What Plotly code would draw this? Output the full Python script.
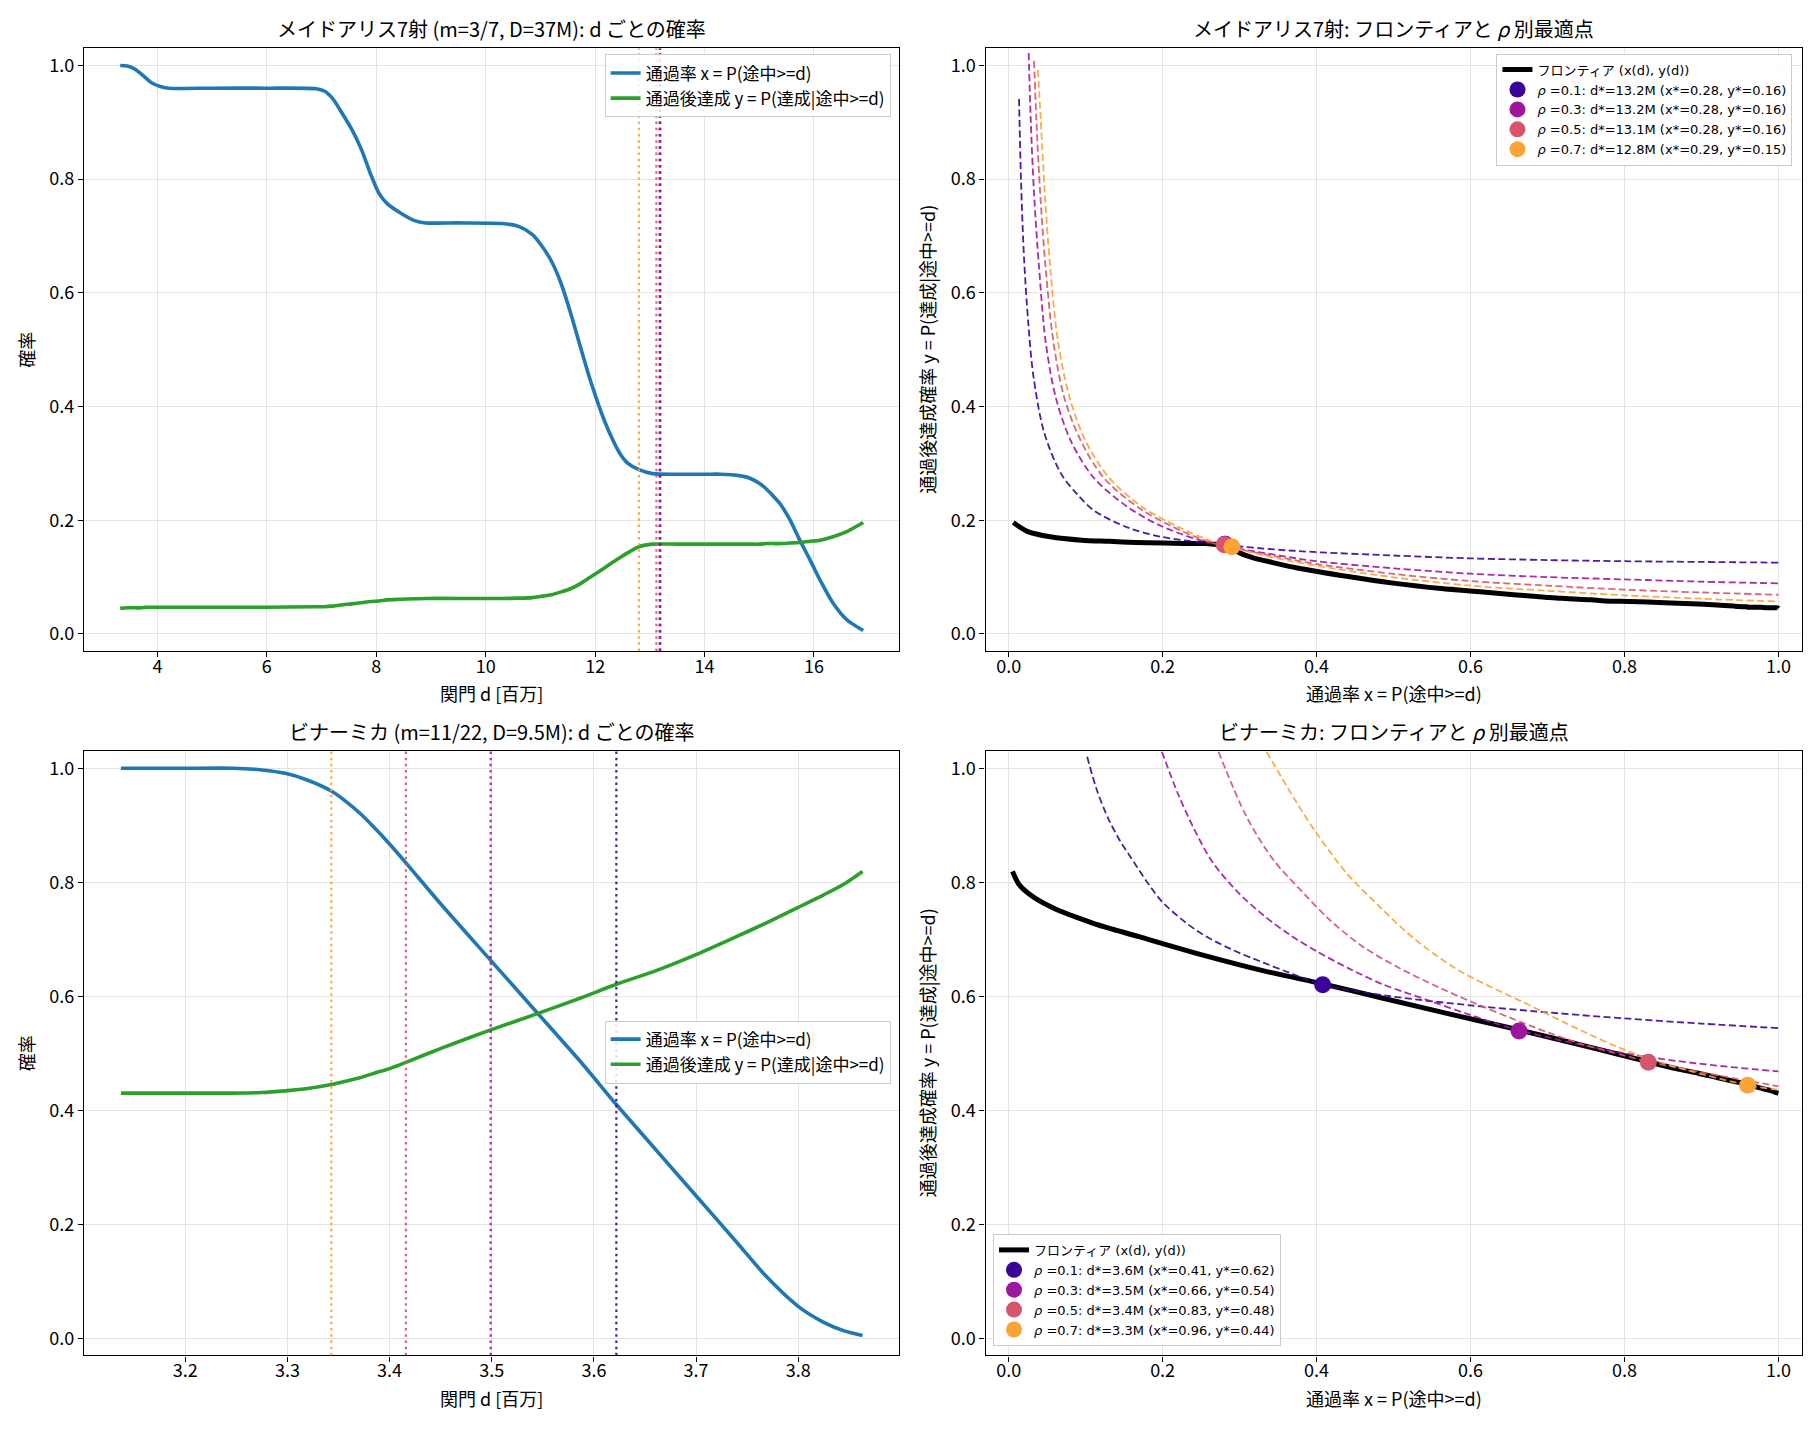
import plotly.graph_objects as go
from plotly.subplots import make_subplots

FONT = "Noto Sans CJK JP"
SMALL_FONT = "DejaVu Sans, Noto Sans CJK JP"

RHO = [0.1, 0.3, 0.5, 0.7]
RHO_COLORS = ["#3a049a", "#9c179e", "#d6556d", "#fca338"]

# --- メイドアリス7射 (top row) ---
ma_d = [3.32, 3.45, 3.6, 3.7, 3.8, 3.9, 4.05, 4.2, 5.0, 6.0, 6.9, 7.05, 7.2, 7.35, 7.55, 7.73,
        7.9, 8.05, 8.2, 8.45, 8.7, 8.9, 9.5, 10.3, 10.6, 10.85, 11.0, 11.2, 11.38, 11.56, 11.74,
        11.93, 12.17, 12.32, 12.45, 12.6, 12.8, 13.05, 13.5, 14.0, 14.3, 14.6, 14.83, 15.0,
        15.13, 15.25, 15.38, 15.56, 15.74, 15.93, 16.11, 16.35, 16.6, 16.9]
ma_pass = [1.000, 0.999, 0.993, 0.985, 0.977, 0.969, 0.963, 0.960, 0.960, 0.960, 0.959, 0.955,
           0.942, 0.920, 0.888, 0.852, 0.808, 0.775, 0.757, 0.740, 0.727, 0.723, 0.723, 0.722,
           0.717, 0.703, 0.686, 0.656, 0.616, 0.562, 0.502, 0.441, 0.375, 0.342, 0.318, 0.300,
           0.289, 0.282, 0.281, 0.281, 0.281, 0.279, 0.274, 0.265, 0.255, 0.243, 0.229, 0.201,
           0.165, 0.130, 0.095, 0.054, 0.025, 0.006]
ma_post = [0.045, 0.046, 0.046, 0.046, 0.047, 0.047, 0.047, 0.047, 0.047, 0.047, 0.048, 0.048,
           0.049, 0.051, 0.053, 0.055, 0.057, 0.058, 0.060, 0.061, 0.062, 0.0625, 0.0625, 0.0625,
           0.063, 0.064, 0.066, 0.069, 0.074, 0.080, 0.089, 0.101, 0.116, 0.126, 0.134, 0.143,
           0.1535, 0.158, 0.158, 0.158, 0.158, 0.158, 0.158, 0.158, 0.159, 0.159, 0.159, 0.160,
           0.161, 0.163, 0.165, 0.171, 0.180, 0.196]
ma_dstar = [13.19, 13.18, 13.12, 12.80]
ma_xstar = [0.281, 0.281, 0.280, 0.290]
ma_ystar = [0.158, 0.158, 0.157, 0.1535]
ma_iso_x = [
    [0.0135, 0.016, 0.020, 0.0256, 0.032, 0.046, 0.068, 0.0895, 0.111, 0.155, 0.198, 0.263,
     0.352, 0.4, 0.5, 0.6, 0.7, 0.8, 0.9, 1.0],
    [0.026, 0.0287, 0.033, 0.0395, 0.048, 0.061, 0.081, 0.111, 0.155, 0.198, 0.259, 0.352,
     0.4, 0.5, 0.6, 0.7, 0.8, 0.9, 1.0],
    [0.033, 0.036, 0.041, 0.048, 0.058, 0.072, 0.094, 0.124, 0.168, 0.211, 0.263, 0.352,
     0.4, 0.5, 0.6, 0.7, 0.8, 0.9, 1.0],
    [0.038, 0.0417, 0.047, 0.054, 0.064, 0.079, 0.100, 0.131, 0.174, 0.218, 0.268, 0.352,
     0.4, 0.5, 0.6, 0.7, 0.8, 0.9, 1.0],
]
ma_iso_y = [
    [0.941, 0.80, 0.66, 0.545, 0.455, 0.355, 0.282, 0.245, 0.217, 0.187, 0.171, 0.159,
     0.148, 0.144, 0.138, 0.133, 0.130, 0.128, 0.1267, 0.1255],
    [1.022, 0.904, 0.774, 0.644, 0.515, 0.417, 0.339, 0.274, 0.223, 0.190, 0.161, 0.138,
     0.128, 0.1155, 0.106, 0.100, 0.096, 0.092, 0.089],
    [1.008, 0.904, 0.774, 0.644, 0.515, 0.417, 0.339, 0.274, 0.223, 0.190, 0.161, 0.135,
     0.123, 0.1056, 0.093, 0.085, 0.078, 0.073, 0.069],
    [0.992, 0.904, 0.774, 0.644, 0.515, 0.417, 0.339, 0.274, 0.223, 0.190, 0.161, 0.132,
     0.120, 0.0997, 0.085, 0.076, 0.068, 0.062, 0.057],
]

# --- ビナーミカ (bottom row) ---
bm_d = [3.137, 3.2, 3.2465, 3.275, 3.298, 3.320, 3.343, 3.355, 3.371, 3.385, 3.400, 3.416,
        3.451, 3.499, 3.544, 3.587, 3.622, 3.661, 3.700, 3.740, 3.768, 3.800, 3.825, 3.845,
        3.863]
bm_pass = [1.0, 1.0, 1.0, 0.997, 0.991, 0.979, 0.960, 0.945, 0.921, 0.896, 0.867, 0.834,
           0.760, 0.663, 0.572, 0.485, 0.410, 0.330, 0.250, 0.168, 0.110, 0.056, 0.028, 0.013,
           0.005]
bm_post = [0.430, 0.430, 0.430, 0.431, 0.434, 0.438, 0.445, 0.450, 0.457, 0.465, 0.473, 0.484,
           0.509, 0.541, 0.569, 0.597, 0.621, 0.645, 0.673, 0.705, 0.728, 0.756, 0.778, 0.797,
           0.819]
bm_dstar = [3.622, 3.499, 3.416, 3.343]
bm_xstar = [0.408, 0.663, 0.831, 0.960]
bm_ystar = [0.620, 0.539, 0.484, 0.444]
bm_iso_x = [
    [0.102, 0.115, 0.13, 0.145, 0.158, 0.18, 0.2013, 0.2445, 0.288, 0.331, 0.365, 0.408, 0.496,
     0.6, 0.68, 0.8, 0.9, 1.0],
    [0.199, 0.22, 0.24, 0.264, 0.296, 0.331, 0.365, 0.4, 0.443, 0.486, 0.547, 0.6, 0.663, 0.8,
     0.895, 1.0],
    [0.2726, 0.309, 0.344, 0.383, 0.417, 0.460, 0.504, 0.547, 0.586, 0.68, 0.742, 0.8, 0.831,
     0.926, 1.0],
    [0.335, 0.374, 0.4, 0.439, 0.482, 0.525, 0.584, 0.68, 0.742, 0.8, 0.864, 0.96, 1.0],
]
bm_iso_y = [
    [1.02, 0.96, 0.91, 0.872, 0.845, 0.800, 0.763, 0.715, 0.683, 0.659, 0.641, 0.620, 0.600,
     0.584, 0.574, 0.561, 0.552, 0.544],
    [1.029, 0.955, 0.896, 0.837, 0.785, 0.742, 0.708, 0.679, 0.648, 0.621, 0.592, 0.567,
     0.540, 0.500, 0.482, 0.468],
    [1.029, 0.915, 0.839, 0.781, 0.734, 0.687, 0.652, 0.623, 0.599, 0.547, 0.517, 0.496, 0.485,
     0.460, 0.442],
    [1.029, 0.940, 0.886, 0.816, 0.757, 0.703, 0.646, 0.582, 0.541, 0.506, 0.477, 0.444, 0.436],
]

LBL_X = "通過率 x = P(途中>=d)"
LBL_Y = "通過後達成 y = P(達成|途中>=d)"

# the page body adds an 8px margin, so the figure is 8px smaller than the window
W, H = 1812, 1422

# axes boxes in paper coords
XD_L = [0.0420, 0.4919]
XD_R = [0.5395, 0.9898]
YD_T = [0.5478, 0.9716]
YD_B = [0.0525, 0.4774]


def frontier(xs, ys):
    fx, fy = [], []
    for a, b in zip(xs, ys):
        if fx and abs(a - fx[-1]) < 1e-9 and abs(b - fy[-1]) < 1e-9:
            continue
        fx.append(a)
        fy.append(b)
    return fx, fy


fig = make_subplots(rows=2, cols=2)


def d_panel(row, d, xs, ys, dstar, leg):
    fig.add_trace(go.Scatter(x=d, y=xs, mode="lines", name=LBL_X, legend=leg,
                             line=dict(color="#1f77b4", width=3.6, shape="spline", smoothing=0.7)),
                  row=row, col=1)
    fig.add_trace(go.Scatter(x=d, y=ys, mode="lines", name=LBL_Y, legend=leg,
                             line=dict(color="#2ca02c", width=3.6, shape="spline", smoothing=0.7)),
                  row=row, col=1)
    for ds, c in zip(dstar, RHO_COLORS):
        fig.add_vline(x=ds, line=dict(color=c, width=2.2, dash="2.5px,3.7px"), opacity=0.9,
                      row=row, col=1)


def front_panel(row, xs, ys, iso_x, iso_y, dstar, xstar, ystar, leg):
    fx, fy = frontier(xs, ys)
    fig.add_trace(go.Scatter(x=fx, y=fy, mode="lines", name="フロンティア (x(d), y(d))",
                             legend=leg,
                             line=dict(color="black", width=5, shape="spline", smoothing=0.8)),
                  row=row, col=2)
    for ix, iy, c in zip(iso_x, iso_y, RHO_COLORS):
        fig.add_trace(go.Scatter(x=ix, y=iy, mode="lines", showlegend=False, opacity=0.9,
                                 line=dict(color=c, width=1.8, dash="7px,3.5px",
                                           shape="spline", smoothing=0.9)),
                      row=row, col=2)
    for r, ds, xv, yv, c in zip(RHO, dstar, xstar, ystar, RHO_COLORS):
        name = f"<i>ρ</i> ={r}: d*={ds:.1f}M (x*={xv:.2f}, y*={yv:.2f})"
        fig.add_trace(go.Scatter(x=[xv], y=[yv], mode="markers", name=name, legend=leg,
                                 marker=dict(color=c, size=17)),
                      row=row, col=2)


d_panel(1, ma_d, ma_pass, ma_post, ma_dstar, "legend")
front_panel(1, ma_pass, ma_post, ma_iso_x, ma_iso_y, ma_dstar, ma_xstar, ma_ystar, "legend3")
d_panel(2, bm_d, bm_pass, bm_post, bm_dstar, "legend2")
front_panel(2, bm_pass, bm_post, bm_iso_x, bm_iso_y, bm_dstar, bm_xstar, bm_ystar, "legend4")

axis_style = dict(showline=True, linecolor="black", linewidth=1.4, mirror=True,
                  ticks="outside", ticklen=5, tickwidth=1.4, tickcolor="black",
                  showgrid=True, gridcolor="#e4e4e4", gridwidth=1.3, zeroline=False,
                  tickfont=dict(family=FONT, size=18, color="black"))
fig.update_xaxes(**axis_style, ticklabelstandoff=-6)
fig.update_yaxes(**axis_style, range=[-0.03, 1.03], dtick=0.2, tickformat=".1f")

fig.update_layout(
    xaxis=dict(domain=XD_L, range=[2.66, 17.56], dtick=2, tick0=0),
    yaxis=dict(domain=YD_T),
    xaxis2=dict(domain=XD_R, range=[-0.03, 1.03], dtick=0.2, tickformat=".1f"),
    yaxis2=dict(domain=YD_T),
    xaxis3=dict(domain=XD_L, range=[3.101, 3.899], dtick=0.1, tick0=3.0, tickformat=".1f"),
    yaxis3=dict(domain=YD_B),
    xaxis4=dict(domain=XD_R, range=[-0.03, 1.03], dtick=0.2, tickformat=".1f"),
    yaxis4=dict(domain=YD_B),
)

leg_common = dict(bgcolor="rgba(255,255,255,0.85)", bordercolor="#cccccc", borderwidth=1,
                  itemsizing="trace", tracegroupgap=0)
fig.update_layout(
    legend=dict(**leg_common, x=0.4871, y=0.9673, xanchor="right", yanchor="top",
                font=dict(family=FONT, size=17, color="black")),
    legend2=dict(**leg_common, x=0.4871, y=0.2658, xanchor="right", yanchor="middle",
                 font=dict(family=FONT, size=17, color="black")),
    legend3=dict(**leg_common, x=0.9848, y=0.9679, xanchor="right", yanchor="top",
                 font=dict(family=SMALL_FONT, size=13, color="black")),
    legend4=dict(**leg_common, x=0.5436, y=0.0591, xanchor="left", yanchor="bottom",
                 font=dict(family=SMALL_FONT, size=13, color="black")),
)

titles = [
    ("メイドアリス7射 (m=3/7, D=37M): d ごとの確率", XD_L, 0.9859),
    ("メイドアリス7射: フロンティアと <i>ρ</i> 別最適点", XD_R, 0.9859),
    ("ビナーミカ (m=11/22, D=9.5M): d ごとの確率", XD_L, 0.4909),
    ("ビナーミカ: フロンティアと <i>ρ</i> 別最適点", XD_R, 0.4909),
]
for text, xd, yy in titles:
    fig.add_annotation(text=text, xref="paper", yref="paper", x=(xd[0] + xd[1]) / 2, y=yy,
                       xanchor="center", yanchor="middle", showarrow=False,
                       font=dict(family=FONT, size=20, color="black"))

axis_labels = [
    ("関門 d [百万]", (XD_L[0] + XD_L[1]) / 2, 0.5183, 0),
    (LBL_X, (XD_R[0] + XD_R[1]) / 2, 0.5183, 0),
    ("関門 d [百万]", (XD_L[0] + XD_L[1]) / 2, 0.0225, 0),
    (LBL_X, (XD_R[0] + XD_R[1]) / 2, 0.0225, 0),
    ("確率", 0.0099, (YD_T[0] + YD_T[1]) / 2, -90),
    ("確率", 0.0099, (YD_B[0] + YD_B[1]) / 2, -90),
    ("通過後達成確率 y = P(達成|途中>=d)", 0.5072, (YD_T[0] + YD_T[1]) / 2, -90),
    ("通過後達成確率 y = P(達成|途中>=d)", 0.5072, (YD_B[0] + YD_B[1]) / 2, -90),
]
for text, xx, yy, ang in axis_labels:
    fig.add_annotation(text=text, xref="paper", yref="paper", x=xx, y=yy, textangle=ang,
                       xanchor="center", yanchor="middle", showarrow=False,
                       font=dict(family=FONT, size=18, color="black"))

fig.update_layout(width=W, height=H, autosize=False,
                  margin=dict(l=0, r=0, t=0, b=0),
                  plot_bgcolor="white", paper_bgcolor="white",
                  font=dict(family=FONT, color="black"))

fig.write_html("out.html")
